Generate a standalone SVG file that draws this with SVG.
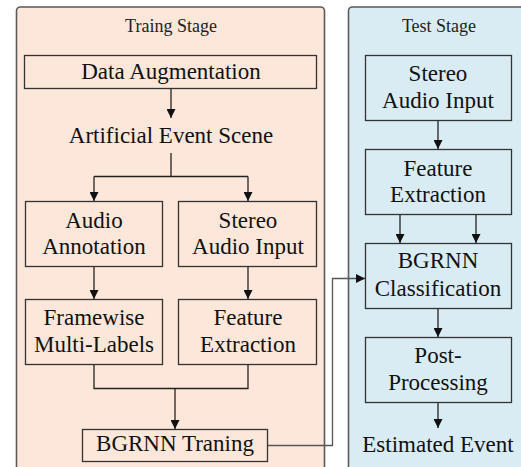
<svg xmlns="http://www.w3.org/2000/svg" width="521" height="467" viewBox="0 0 521 467" font-family="Liberation Serif, Times New Roman, serif">
  <style>
    .panel { stroke: #5a5a5a; stroke-width: 1.6; }
    .train { fill: #fce7da; }
    .test { fill: #daecf3; }
    .box { fill: none; stroke: #333; stroke-width: 1.3; }
    .title { font-size: 18px; fill: #222; text-anchor: middle; }
    .lbl { font-size: 23px; fill: #111; text-anchor: middle; }
    .wire { fill: none; stroke: #222; stroke-width: 1.3; }
    .link { fill: none; stroke: #555; stroke-width: 1.3; }
  </style>
  <defs>
    <marker id="arrow" viewBox="0 0 10 10" refX="10" refY="5" markerWidth="9" markerHeight="9" markerUnits="userSpaceOnUse" orient="auto">
      <path d="M0,0 L10,5 L0,10 z" fill="#111"/>
    </marker>
  </defs>

  <!-- stage panels -->
  <g id="training-stage">
    <rect class="panel train" x="16.5" y="7" width="308" height="475" rx="4"/>
    <text class="title" x="171" y="32">Traing Stage</text>
  </g>
  <g id="test-stage">
    <rect class="panel test" x="348.5" y="7" width="190" height="475" rx="4"/>
    <text class="title" x="439" y="32">Test Stage</text>
  </g>

  <!-- training nodes -->
  <g id="data-augmentation">
    <rect class="box" x="24.5" y="55.5" width="292" height="33"/>
    <text class="lbl" x="171" y="79">Data Augmentation</text>
  </g>
  <g id="artificial-event-scene">
    <text class="lbl" x="171" y="143">Artificial Event Scene</text>
  </g>
  <g id="audio-annotation">
    <rect class="box" x="25.5" y="201.5" width="137" height="65"/>
    <text class="lbl" x="94" y="228">Audio</text>
    <text class="lbl" x="94" y="254">Annotation</text>
  </g>
  <g id="train-stereo-input">
    <rect class="box" x="178.5" y="201.5" width="138" height="65"/>
    <text class="lbl" x="248" y="228">Stereo</text>
    <text class="lbl" x="248" y="254">Audio Input</text>
  </g>
  <g id="framewise-labels">
    <rect class="box" x="25.5" y="299.5" width="137" height="65"/>
    <text class="lbl" x="94" y="325">Framewise</text>
    <text class="lbl" x="94" y="352">Multi-Labels</text>
  </g>
  <g id="train-feature-extraction">
    <rect class="box" x="178.5" y="299.5" width="138" height="65"/>
    <text class="lbl" x="248" y="325">Feature</text>
    <text class="lbl" x="248" y="352">Extraction</text>
  </g>
  <g id="bgrnn-training">
    <rect class="box" x="82.5" y="429.5" width="185" height="32"/>
    <text class="lbl" x="175" y="451">BGRNN Traning</text>
  </g>

  <!-- test nodes -->
  <g id="test-stereo-input">
    <rect class="box" x="365.5" y="55.5" width="146" height="65"/>
    <text class="lbl" x="438" y="81">Stereo</text>
    <text class="lbl" x="438" y="108">Audio Input</text>
  </g>
  <g id="test-feature-extraction">
    <rect class="box" x="365.5" y="149.5" width="146" height="65"/>
    <text class="lbl" x="438" y="176">Feature</text>
    <text class="lbl" x="438" y="202">Extraction</text>
  </g>
  <g id="bgrnn-classification">
    <rect class="box" x="365.5" y="243.5" width="146" height="65"/>
    <text class="lbl" x="438" y="268">BGRNN</text>
    <text class="lbl" x="438" y="296">Classification</text>
  </g>
  <g id="post-processing">
    <rect class="box" x="365.5" y="337.5" width="146" height="65"/>
    <text class="lbl" x="438" y="363">Post-</text>
    <text class="lbl" x="438" y="390">Processing</text>
  </g>
  <g id="estimated-event">
    <text class="lbl" x="438" y="452">Estimated Event</text>
  </g>

  <!-- connectors -->
  <g id="connectors">
    <path class="wire" d="M171,89 V118" marker-end="url(#arrow)"/>
    <path class="wire" d="M171,153 V176.5 M94,176.5 H248"/>
    <path class="wire" d="M94,176.5 V201" marker-end="url(#arrow)"/>
    <path class="wire" d="M248,176.5 V201" marker-end="url(#arrow)"/>
    <path class="wire" d="M94,267 V299" marker-end="url(#arrow)"/>
    <path class="wire" d="M248,267 V299" marker-end="url(#arrow)"/>
    <path class="wire" d="M94,365 V388.5 H248 V365"/>
    <path class="wire" d="M175,388.5 V429" marker-end="url(#arrow)"/>
    <path class="link" d="M268,445.5 H332.5 V278.5 H365" marker-end="url(#arrow)"/>
    <path class="wire" d="M438,121 V149" marker-end="url(#arrow)"/>
    <path class="wire" d="M400,215 V243" marker-end="url(#arrow)"/>
    <path class="wire" d="M476,215 V243" marker-end="url(#arrow)"/>
    <path class="wire" d="M438,309 V337" marker-end="url(#arrow)"/>
    <path class="wire" d="M438,403 V428" marker-end="url(#arrow)"/>
  </g>
</svg>
